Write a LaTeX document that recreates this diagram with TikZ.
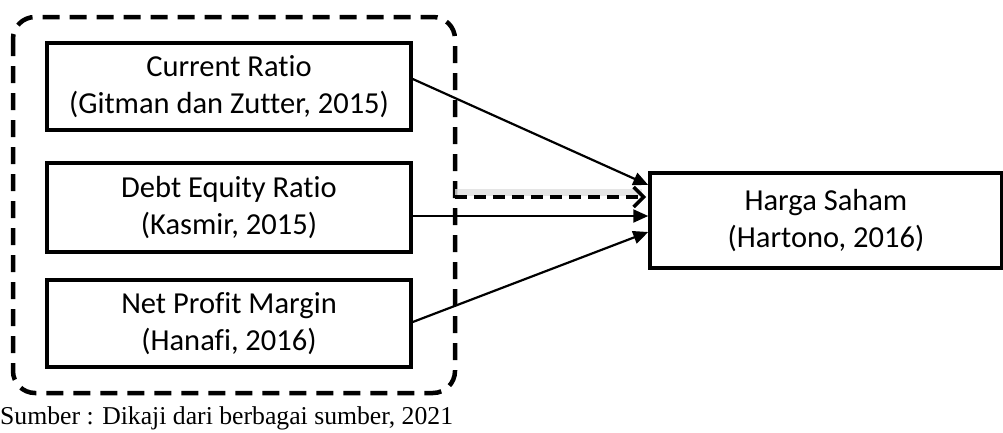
\documentclass[tikz,border=0pt]{standalone}
\usepackage{fontspec}
\setmainfont{Liberation Serif}
\newfontfamily\boxfont[Ligatures=NoCommon]{Carlito}
\usetikzlibrary{arrows.meta}
\begin{document}
\begin{tikzpicture}[x=1pt,y=-1pt,
  box/.style={draw,line width=3.5pt,minimum width=364pt,align=center,font=\boxfont\fontsize{30.5}{37}\selectfont,inner sep=0pt},
  conn/.style={line width=2.2pt,-{Triangle[length=15pt,width=13pt]}},
  group/.style={draw,line width=4.5pt,dash pattern=on 17pt off 10pt,rounded corners=22pt}]
\useasboundingbox (0,0) rectangle (1003,432);
\draw[group] (13,17) rectangle (455,393);
\node[box,minimum height=87pt] (cr) at (229,86.5) {Current Ratio\\(Gitman dan Zutter, 2015)};
\node[box,minimum height=89pt] (der) at (229,207.5) {Debt Equity Ratio\\(Kasmir, 2015)};
\node[box,minimum height=87pt] (npm) at (229,323.5) {Net Profit Margin\\(Hanafi, 2016)};
\node[box,minimum width=352pt,minimum height=95pt] (hs) at (826,220.5) {Harga Saham\\(Hartono, 2016)};
\coordinate (gr) at (455,197);
\coordinate (hsd) at (650,197);
\draw[conn] (cr.east |- 0,79) -- (hs.west |- 0,185);
\draw[conn] (der.east |- 0,216) -- (hs.west |- 0,216);
\draw[conn] (npm.east |- 0,322) -- (hs.west |- 0,232);
\draw[line width=7pt,gray!25,opacity=0.8,shorten >=8pt] ([yshift=5pt]gr) -- ([yshift=5pt]hsd);
\draw[line width=3.5pt,dash pattern=on 12pt off 7pt,-{Straight Barb[length=10pt,width=20pt,line width=3.5pt]},shorten >=4pt] (gr) -- (hsd);
\node[anchor=base west,inner sep=0pt,font=\fontsize{25.7}{29}\selectfont] (src) at (0,424) {Sumber : Dikaji dari berbagai sumber, 2021};
\end{tikzpicture}
\end{document}
